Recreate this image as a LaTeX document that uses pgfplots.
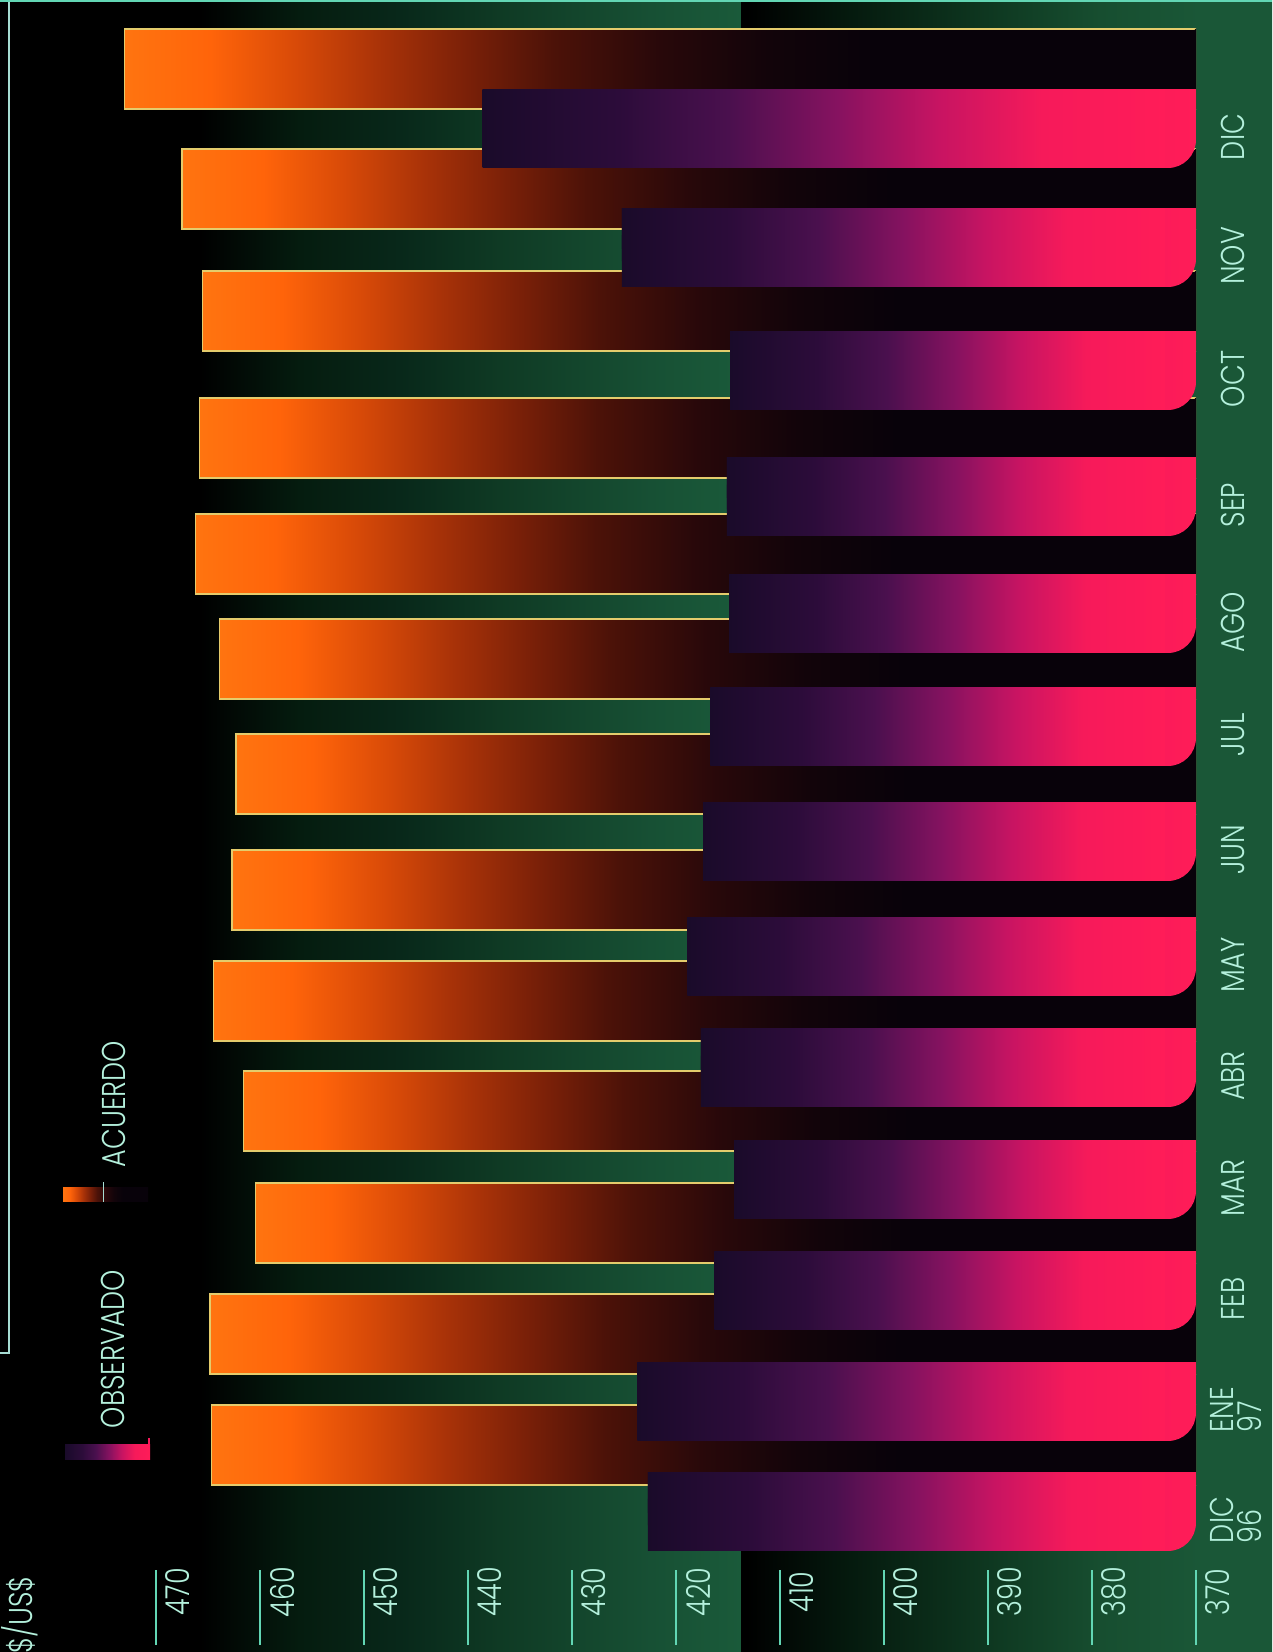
\documentclass[border=0pt]{standalone}
\usepackage{pgfplots}
\pgfplotsset{compat=1.18}
\usepackage{pgfplotstable}
\usepackage{fontspec}
\setmainfont{Poppins}[UprightFont=* Light, FakeStretch=0.82]

\definecolor{txt}{HTML}{B4F0DC}
\definecolor{tickc}{HTML}{62D6B4}
\definecolor{marco}{HTML}{A6DCD2}
\definecolor{edgeo}{HTML}{E4CC6C}
% fondo
\definecolor{bgA}{HTML}{051C0F}
\definecolor{bgB}{HTML}{08281A}
\definecolor{bgC}{HTML}{0F3A24}
\definecolor{bgD}{HTML}{175034}
\definecolor{bgE}{HTML}{1A5A3A}
\definecolor{bgR1}{HTML}{051A0E}
\definecolor{bgR2}{HTML}{0F3A22}
\definecolor{bgR3}{HTML}{174E30}
\definecolor{bgR4}{HTML}{1A5737}
% acuerdo (naranjo)
\definecolor{oA}{HTML}{FF7410}
\definecolor{oB}{HTML}{FF640A}
\definecolor{oC}{HTML}{D84A08}
\definecolor{oD}{HTML}{A83208}
\definecolor{oE}{HTML}{7A2008}
\definecolor{oF}{HTML}{4C1208}
\definecolor{oG}{HTML}{28080A}
\definecolor{oH}{HTML}{12040A}
\definecolor{oI}{HTML}{08020A}
% observado (rosado)
\definecolor{pA}{HTML}{1A0B2A}
\definecolor{pB}{HTML}{2C0C3A}
\definecolor{pC}{HTML}{4A104E}
\definecolor{pD}{HTML}{861260}
\definecolor{pE}{HTML}{C81462}
\definecolor{pF}{HTML}{F61A5A}
\definecolor{pG}{HTML}{FF1C58}

\pgfdeclarehorizontalshading{fondoL}{100bp}{color(0bp)=(black); color(38.5bp)=(black);
  color(45.2bp)=(bgA); color(52bp)=(bgB); color(58.7bp)=(bgC); color(68.9bp)=(bgD);
  color(75bp)=(bgE); color(100bp)=(bgE)}
\pgfdeclarehorizontalshading{fondoR}{100bp}{color(0bp)=(black); color(25.5bp)=(black);
  color(35.3bp)=(bgR1); color(49.4bp)=(bgR2); color(58.8bp)=(bgR3); color(68.2bp)=(bgR4);
  color(75bp)=(bgR4); color(100bp)=(bgR4)}
\pgfdeclarehorizontalshading{acuerdo}{100bp}{color(0bp)=(oA); color(25bp)=(oA);
  color(29bp)=(oB); color(33bp)=(oC); color(37bp)=(oD); color(41bp)=(oE); color(45bp)=(oF);
  color(50bp)=(oG); color(55bp)=(oH); color(60bp)=(oI); color(100bp)=(oI)}
\pgfdeclarehorizontalshading{observado}{100bp}{color(0bp)=(pA); color(25bp)=(pA);
  color(35bp)=(pB); color(43bp)=(pC); color(51bp)=(pD); color(58.5bp)=(pE);
  color(66bp)=(pF); color(75bp)=(pG); color(100bp)=(pG)}

% tipo de cambio $/US$; yo, ya: posicion vertical de cada barra
\pgfplotstableread{
mes obs   yo   acu   ya
0   422.7 140  464.7 207
1   423.7 250  464.8 318
2   416.3 361  460.4 429
3   414.4 472  461.6 541
4   417.6 584  464.5 651
5   418.9 695  462.7 762
6   417.4 810  462.3 878
7   416.7 925  463.9 993
8   414.9 1038 466.2 1098
9   415.1 1155 465.8 1214
10  414.8 1281 465.5 1341
11  425.2 1404 467.5 1463
12  438.6 1523 473.0 1583
}\datos

\newcommand\lbl{\fontsize{33}{25}\selectfont}
\newcommand\lbldos{\fontsize{33}{28}\selectfont}

\begin{document}
\begin{tikzpicture}[x=1pt,y=1pt]
\useasboundingbox (0,0) rectangle (1272,1652);
\shade[shading=fondoL] (0,0) rectangle (741,1652);
\shade[shading=fondoR] (741,0) rectangle (1272,1652);

% acuerdo: eje recortado en la base (370)
\begin{axis}[at={(0pt,0pt)}, anchor=south west, scale only axis,
  width=1196pt, height=1652pt, xmin=0, xmax=115, ymin=0, ymax=1652,
  x dir=reverse, hide axis, clip=true]
\pgfplotsinvokeforeach{0,...,12}{
  \addplot[xbar, bar shift=0pt, bar width=80pt, shading=acuerdo, draw=edgeo,
    line width=1.2pt, restrict expr to domain={\coordindex}{#1:#1}]
    table[x expr=\thisrow{acu}-370, y=ya] {\datos};
}
\addplot[xbar, bar shift=0pt, bar width=80pt, fill=oI, draw=none]
  table[x expr=0.12, y=ya] {\datos};
\end{axis}

% observado
\begin{axis}[at={(0pt,0pt)}, anchor=south west, scale only axis,
  width=1272pt, height=1652pt, xmin=-7.31, xmax=115, ymin=0, ymax=1652,
  x dir=reverse, hide axis, clip=false]
\pgfplotsinvokeforeach{0,...,12}{
  \addplot[xbar, bar shift=0pt, bar width=78pt, shading=observado, draw=none,
    rounded corners=28pt, restrict expr to domain={\coordindex}{#1:#1}]
    table[x expr=\thisrow{obs}-370, y=yo] {\datos};
}
\pgfplotsinvokeforeach{0,...,12}{
  \addplot[xbar, bar shift=19pt, bar width=40pt, shading=observado, draw=none,
    restrict expr to domain={\coordindex}{#1:#1}]
    table[x expr=\thisrow{obs}-370, y=yo] {\datos};
}
\end{axis}

\begin{axis}[at={(0pt,0pt)}, anchor=south west, scale only axis,
  width=1272pt, height=1652pt, xmin=-10.31, xmax=112, ymin=0, ymax=1652,
  x dir=reverse, hide axis, clip=false]
\pgfplotsinvokeforeach{0,...,12}{
  \addplot[xbar, bar shift=0pt, bar width=78pt, shading=observado, draw=none,
    restrict expr to domain={\coordindex}{#1:#1}]
    table[x expr=\thisrow{obs}-373, y=yo] {\datos};
}
\end{axis}

% eje de valores
\foreach \v in {370,380,...,470}{
  \pgfmathsetmacro\X{1196-(\v-370)*10.4}
  \draw[tickc, line width=2.2pt] (\X,7) -- (\X,82);
  \node[txt, rotate=90, font=\lbl] at (\X+22,60) {\v};
}
% meses
\node[txt, rotate=90, align=left, font=\lbldos, inner sep=0pt] at (1236,132) {DIC\\96};
\node[txt, rotate=90, align=left, font=\lbldos, inner sep=0pt] at (1236,242) {ENE\\97};
\foreach \yy/\lab in {353/FEB,464/MAR,576/ABR,687/MAY,802/JUN,917/JUL,1030/AGO,
  1147/SEP,1273/OCT,1396/NOV,1515/DIC}
  \node[txt, rotate=90, font=\lbl, inner sep=0pt] at (1233,\yy) {\lab};

% leyenda
\shade[shading=acuerdo] (63,450) rectangle (148,464);
\draw[marco, line width=1pt] (103,450) -- (103,470);
\shade[shading=observado] (65,192) rectangle (150,207);
\draw[pF, line width=1.2pt] (149,207) -- (149,214);
\node[txt, rotate=90, font=\lbl] at (114,548) {ACUERDO};
\node[txt, rotate=90, font=\lbl] at (113,303) {OBSERVADO};
\node[txt, rotate=90, font=\lbl] at (20,37) {\$/US\$};

% marcos
\draw[marco, line width=2pt] (0,299) -- (9,299) -- (9,1652);
\draw[tickc, line width=2pt] (0,1651) -- (1272,1651);
\end{tikzpicture}
\end{document}
